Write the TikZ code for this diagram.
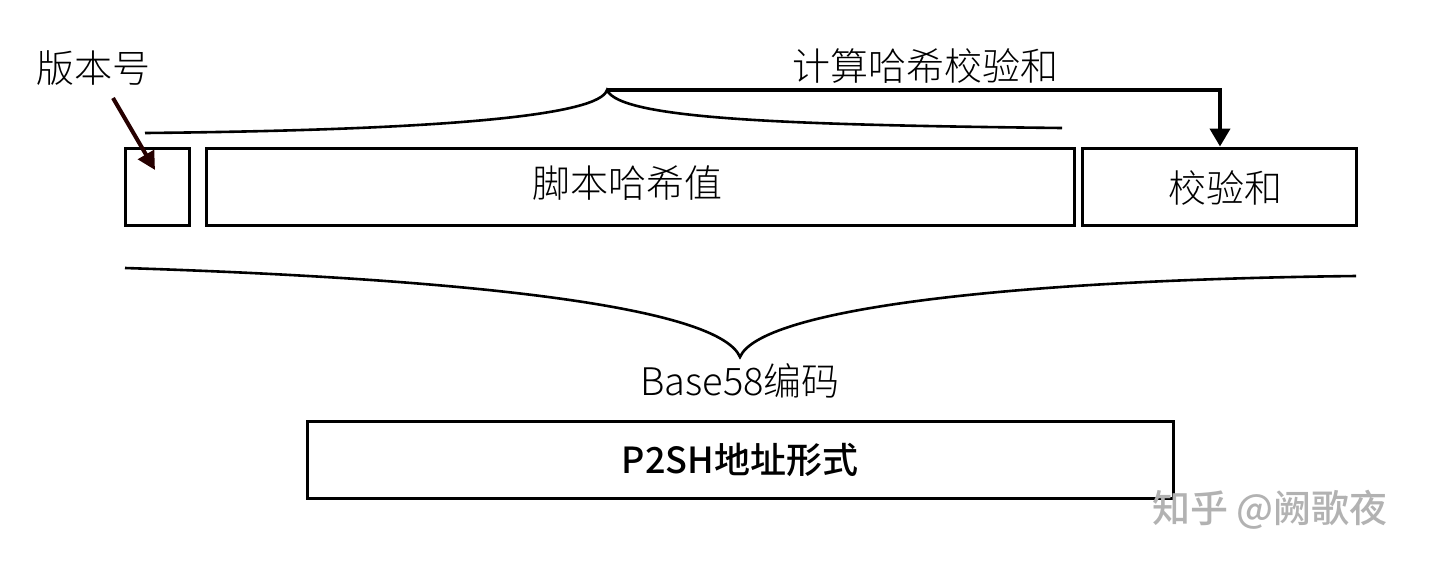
\documentclass[tikz,border=0pt]{standalone}
\usepackage{fontspec}
\setmainfont{Noto Sans CJK SC}[UprightFont=* Light,BoldFont=* Medium]
\usetikzlibrary{arrows.meta}
\begin{document}
\begin{tikzpicture}[x=0.5pt,y=-0.5pt,
  box/.style={draw,line width=1.5pt},
  lbl/.style={font=\fontsize{19}{22}\selectfont,inner sep=0},
  brace/.style={line width=1.3pt}]
\useasboundingbox (0,0) rectangle (1440,569);
\node[box,minimum width=32pt,minimum height=38.5pt] (v) at (157,186.5) {};
\node[box,minimum width=434pt,minimum height=38.5pt] (s) at (640,186.5) {};
\node[box,minimum width=137pt,minimum height=38.5pt] (c) at (1219,186.5) {};
\node[box,minimum width=433pt,minimum height=38.5pt,font=\bfseries\fontsize{18}{21}\selectfont] (p) at (740,459.5) {P2SH地址形式};
\node[lbl] at (627,183) {脚本哈希值};
\node[lbl] at (1225,188) {校验和};
\node[lbl] (vt) at (93,68) {版本号};
\node[lbl] (ct) at (925,66) {计算哈希校验和};
\node[lbl] (bt) at (740,381) {Base58编码};
\node[lbl,text=gray!60,font=\bfseries\fontsize{19}{22}\selectfont] at (1270,510) {知乎 @阙歌夜};
\coordinate (t) at (607,90);
\coordinate (b) at (740,357);
\draw[brace] (145,133) .. controls (450,130) and (600,115) .. (t) .. controls (620,120) and (800,125) .. (1062,128);
\draw[brace] (125,268) .. controls (500,280) and (720,310) .. (b) .. controls (760,310) and (1000,280) .. (1356,276);
\draw[line width=2pt,-{Triangle[length=9pt,width=10pt]}] (t) -- (1220,90) -- (c.north -| 1220,0);
\draw[line width=2pt,color=black!85!red,-{Triangle[length=9pt,width=9pt]}] (113,98) -- (155,170);
\end{tikzpicture}
\end{document}
